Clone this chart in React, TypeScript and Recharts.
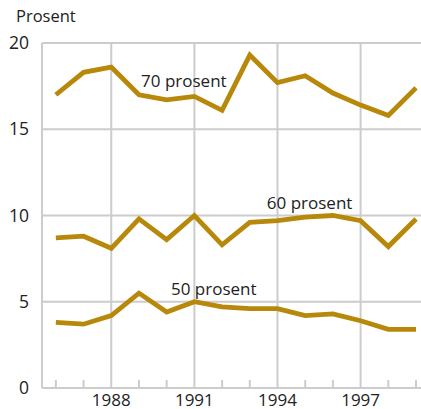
import { CartesianGrid, Line, LineChart, ReferenceDot, ReferenceLine, XAxis, YAxis } from "recharts";

const YEARS = [1986, 1987, 1988, 1989, 1990, 1991, 1992, 1993, 1994, 1995, 1996, 1997, 1998, 1999];
const P70 = [17.0, 18.3, 18.6, 17.0, 16.7, 16.9, 16.1, 19.3, 17.7, 18.1, 17.1, 16.4, 15.8, 17.4];
const P60 = [8.7, 8.8, 8.1, 9.8, 8.6, 10.0, 8.3, 9.6, 9.7, 9.9, 10.0, 9.7, 8.2, 9.8];
const P50 = [3.8, 3.7, 4.2, 5.5, 4.4, 5.0, 4.7, 4.6, 4.6, 4.2, 4.3, 3.9, 3.4, 3.4];
const MAJOR_YEARS = [1988, 1991, 1994, 1997];
const Y_TICKS = [0, 5, 10, 15, 20];
const SERIES_LABELS = [
  { text: "70 prosent", year: 1990.62, value: 17.8 },
  { text: "60 prosent", year: 1995.16, value: 10.72 },
  { text: "50 prosent", year: 1991.7, value: 5.74 },
];

const data = YEARS.map((year, i) => ({ year, p70: P70[i], p60: P60[i], p50: P50[i] }));

const GOLD = "#b8880a";
const GRID = "#cccccc";
const INK = "#222222";
const FONT = "'Open Sans', sans-serif";

function YearTick(props: any) {
  const { x, y, payload } = props;
  const major = MAJOR_YEARS.includes(payload.value);
  return (
    <g>
      {!major && <line x1={x} x2={x} y1={y - 8} y2={y} stroke={GRID} strokeWidth={2} />}
      {major && (
        <text x={x} y={y + 18} textAnchor="middle" fill={INK} fontSize={17} fontFamily={FONT}>
          {payload.value}
        </text>
      )}
    </g>
  );
}

export default function App() {
  return (
    <div style={{ position: "fixed", left: 0, top: 0, width: 421, height: 409, overflow: "hidden", background: "#fff" }}>
      <div style={{ position: "absolute", left: 16, top: 5, fontFamily: FONT, fontSize: 16.5, color: INK, lineHeight: "22px" }}>
        Prosent
      </div>
      <LineChart width={421} height={409} data={data} margin={{ top: 43, right: 0, left: 0, bottom: 0 }}>
        <CartesianGrid vertical={false} stroke={GRID} strokeWidth={2} />
        <XAxis
          dataKey="year"
          type="number"
          domain={[1985.5, 1999.18]}
          allowDataOverflow
          ticks={YEARS}
          interval={0}
          height={21}
          tickSize={0}
          tickMargin={0}
          tickLine={false}
          axisLine={{ stroke: GRID, strokeWidth: 2 }}
          tick={<YearTick />}
        />
        <YAxis
          domain={[0, 20]}
          ticks={Y_TICKS}
          width={42}
          tickLine={false}
          tickMargin={7}
          axisLine={{ stroke: GRID, strokeWidth: 2 }}
          tick={{ fill: INK, fontSize: 17.5, fontFamily: FONT }}
        />
        {MAJOR_YEARS.map((y) => (
          <ReferenceLine key={y} x={y} stroke={GRID} strokeWidth={2} />
        ))}
        <Line dataKey="p70" stroke={GOLD} strokeWidth={4.8} dot={false} strokeLinejoin="miter" isAnimationActive={false} />
        <Line dataKey="p60" stroke={GOLD} strokeWidth={4.8} dot={false} strokeLinejoin="miter" isAnimationActive={false} />
        <Line dataKey="p50" stroke={GOLD} strokeWidth={4.8} dot={false} strokeLinejoin="miter" isAnimationActive={false} />
        {SERIES_LABELS.map((l) => (
          <ReferenceDot
            key={l.text}
            x={l.year}
            y={l.value}
            r={1}
            fill="none"
            stroke="none"
            label={{ value: l.text, position: "center", fill: INK, fontSize: 17, fontFamily: FONT }}
          />
        ))}
      </LineChart>
    </div>
  );
}
